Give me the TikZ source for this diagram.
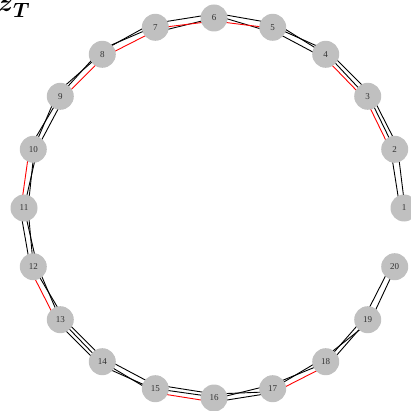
\documentclass[tikz,border=0pt]{standalone}
\usepackage{fontspec}
\setmainfont{Liberation Serif}
\usepackage{amsmath}
\usepackage{xcolor}
\usetikzlibrary{calc,backgrounds}

\definecolor{nodegray}{RGB}{192,192,192}
\definecolor{labelgray}{RGB}{50,50,50}

% one stroke between two states, offsets (pt) measured towards the ring centre
\newcommand{\zline}[5]{\draw[#3] ($(#1)!#4pt!90:(#2)$) -- ($(#2)!#5pt!-90:(#1)$);}

\tikzset{
  state/.style={circle, fill=nodegray, text=labelgray, inner sep=0pt,
    minimum size=27pt, font=\fontsize{9}{9}\selectfont},
  bl/.style={black, line width=0.9pt},
  rd/.style={red, line width=0.9pt}
}

\begin{document}
\begin{tikzpicture}[x=1pt, y=-1pt]
\useasboundingbox (0,0) rectangle (411,411);
\node[anchor=base west, inner sep=0pt, font=\fontsize{30}{30}\selectfont](title) at (-2,12){$\boldsymbol{z}_{\boldsymbol{T}}$};
\node[state](n1) at (404,208){1};
\node[state](n2) at (394.7,149.3){2};
\node[state](n3) at (367.7,96.3){3};
\node[state](n4) at (325.7,54.3){4};
\node[state](n5) at (272.7,27.3){5};
\node[state](n6) at (214,18){6};
\node[state](n7) at (155.3,27.3){7};
\node[state](n8) at (102.3,54.3){8};
\node[state](n9) at (60.3,96.3){9};
\node[state](n10) at (33.3,149.3){10};
\node[state](n11) at (24,208){11};
\node[state](n12) at (33.3,266.7){12};
\node[state](n13) at (60.3,319.7){13};
\node[state](n14) at (102.3,361.7){14};
\node[state](n15) at (155.3,388.7){15};
\node[state](n16) at (214,398){16};
\node[state](n17) at (272.7,388.7){17};
\node[state](n18) at (325.7,361.7){18};
\node[state](n19) at (367.7,319.7){19};
\node[state](n20) at (394.7,266.7){20};
\begin{scope}[on background layer]
% 1 - 5
\zline{n1}{n2}{bl}{4}{4}
\zline{n1}{n2}{bl}{-1}{-3}
\zline{n2}{n3}{bl}{-4}{-4}
\zline{n2}{n3}{bl}{0}{-1}
\zline{n2}{n3}{rd}{4}{3}
\zline{n3}{n4}{bl}{-4}{-4}
\zline{n3}{n4}{bl}{1}{-1}
\zline{n3}{n4}{rd}{4}{3}
\zline{n4}{n5}{bl}{-4}{-1}
\zline{n4}{n5}{bl}{0}{-5}
\zline{n4}{n5}{bl}{4}{3}
% 5 - 10
\zline{n5}{n6}{bl}{-4}{-5}
\zline{n5}{n6}{bl}{5}{-3}
\zline{n5}{n6}{rd}{1}{3}
\zline{n6}{n7}{bl}{-4}{-4}
\zline{n6}{n7}{bl}{0}{5}
\zline{n6}{n7}{rd}{3}{1}
\zline{n7}{n8}{bl}{-5}{-3}
\zline{n7}{n8}{bl}{-1}{-5}
\zline{n7}{n8}{rd}{3}{3}
\zline{n8}{n9}{bl}{-4}{-1}
\zline{n8}{n9}{bl}{-1}{-5}
\zline{n8}{n9}{rd}{3}{3}
\zline{n9}{n10}{bl}{-4}{0}
\zline{n9}{n10}{bl}{0}{-4}
\zline{n9}{n10}{bl}{4}{3}
% 10 - 15
\zline{n10}{n11}{rd}{-4}{-3}
\zline{n10}{n11}{bl}{1}{4}
\zline{n10}{n11}{bl}{4}{0}
\zline{n11}{n12}{bl}{-4}{-3}
\zline{n11}{n12}{bl}{0}{4}
\zline{n11}{n12}{bl}{4}{0}
\zline{n12}{n13}{rd}{-4}{-4}
\zline{n12}{n13}{bl}{0}{4}
\zline{n12}{n13}{bl}{4}{0}
\zline{n13}{n14}{bl}{-4}{-4}
\zline{n13}{n14}{bl}{0}{-1}
\zline{n13}{n14}{bl}{3}{3}
\zline{n14}{n15}{bl}{-4}{-1}
\zline{n14}{n15}{bl}{0}{-4}
\zline{n14}{n15}{bl}{4}{3}
% 15 - 20
\zline{n15}{n16}{bl}{4}{4}
\zline{n15}{n16}{bl}{0}{1}
\zline{n15}{n16}{rd}{-4}{-4}
\zline{n16}{n17}{bl}{4}{-3}
\zline{n16}{n17}{bl}{-1}{4}
\zline{n16}{n17}{bl}{-4}{-4}
\zline{n17}{n18}{bl}{4}{-1}
\zline{n17}{n18}{bl}{0}{4}
\zline{n17}{n18}{rd}{-4}{-4}
\zline{n18}{n19}{bl}{4}{-3}
\zline{n18}{n19}{bl}{0}{4}
\zline{n18}{n19}{bl}{-4}{0}
\zline{n19}{n20}{bl}{4}{4}
\zline{n19}{n20}{bl}{-3}{-1}
\end{scope}
\end{tikzpicture}
\end{document}
